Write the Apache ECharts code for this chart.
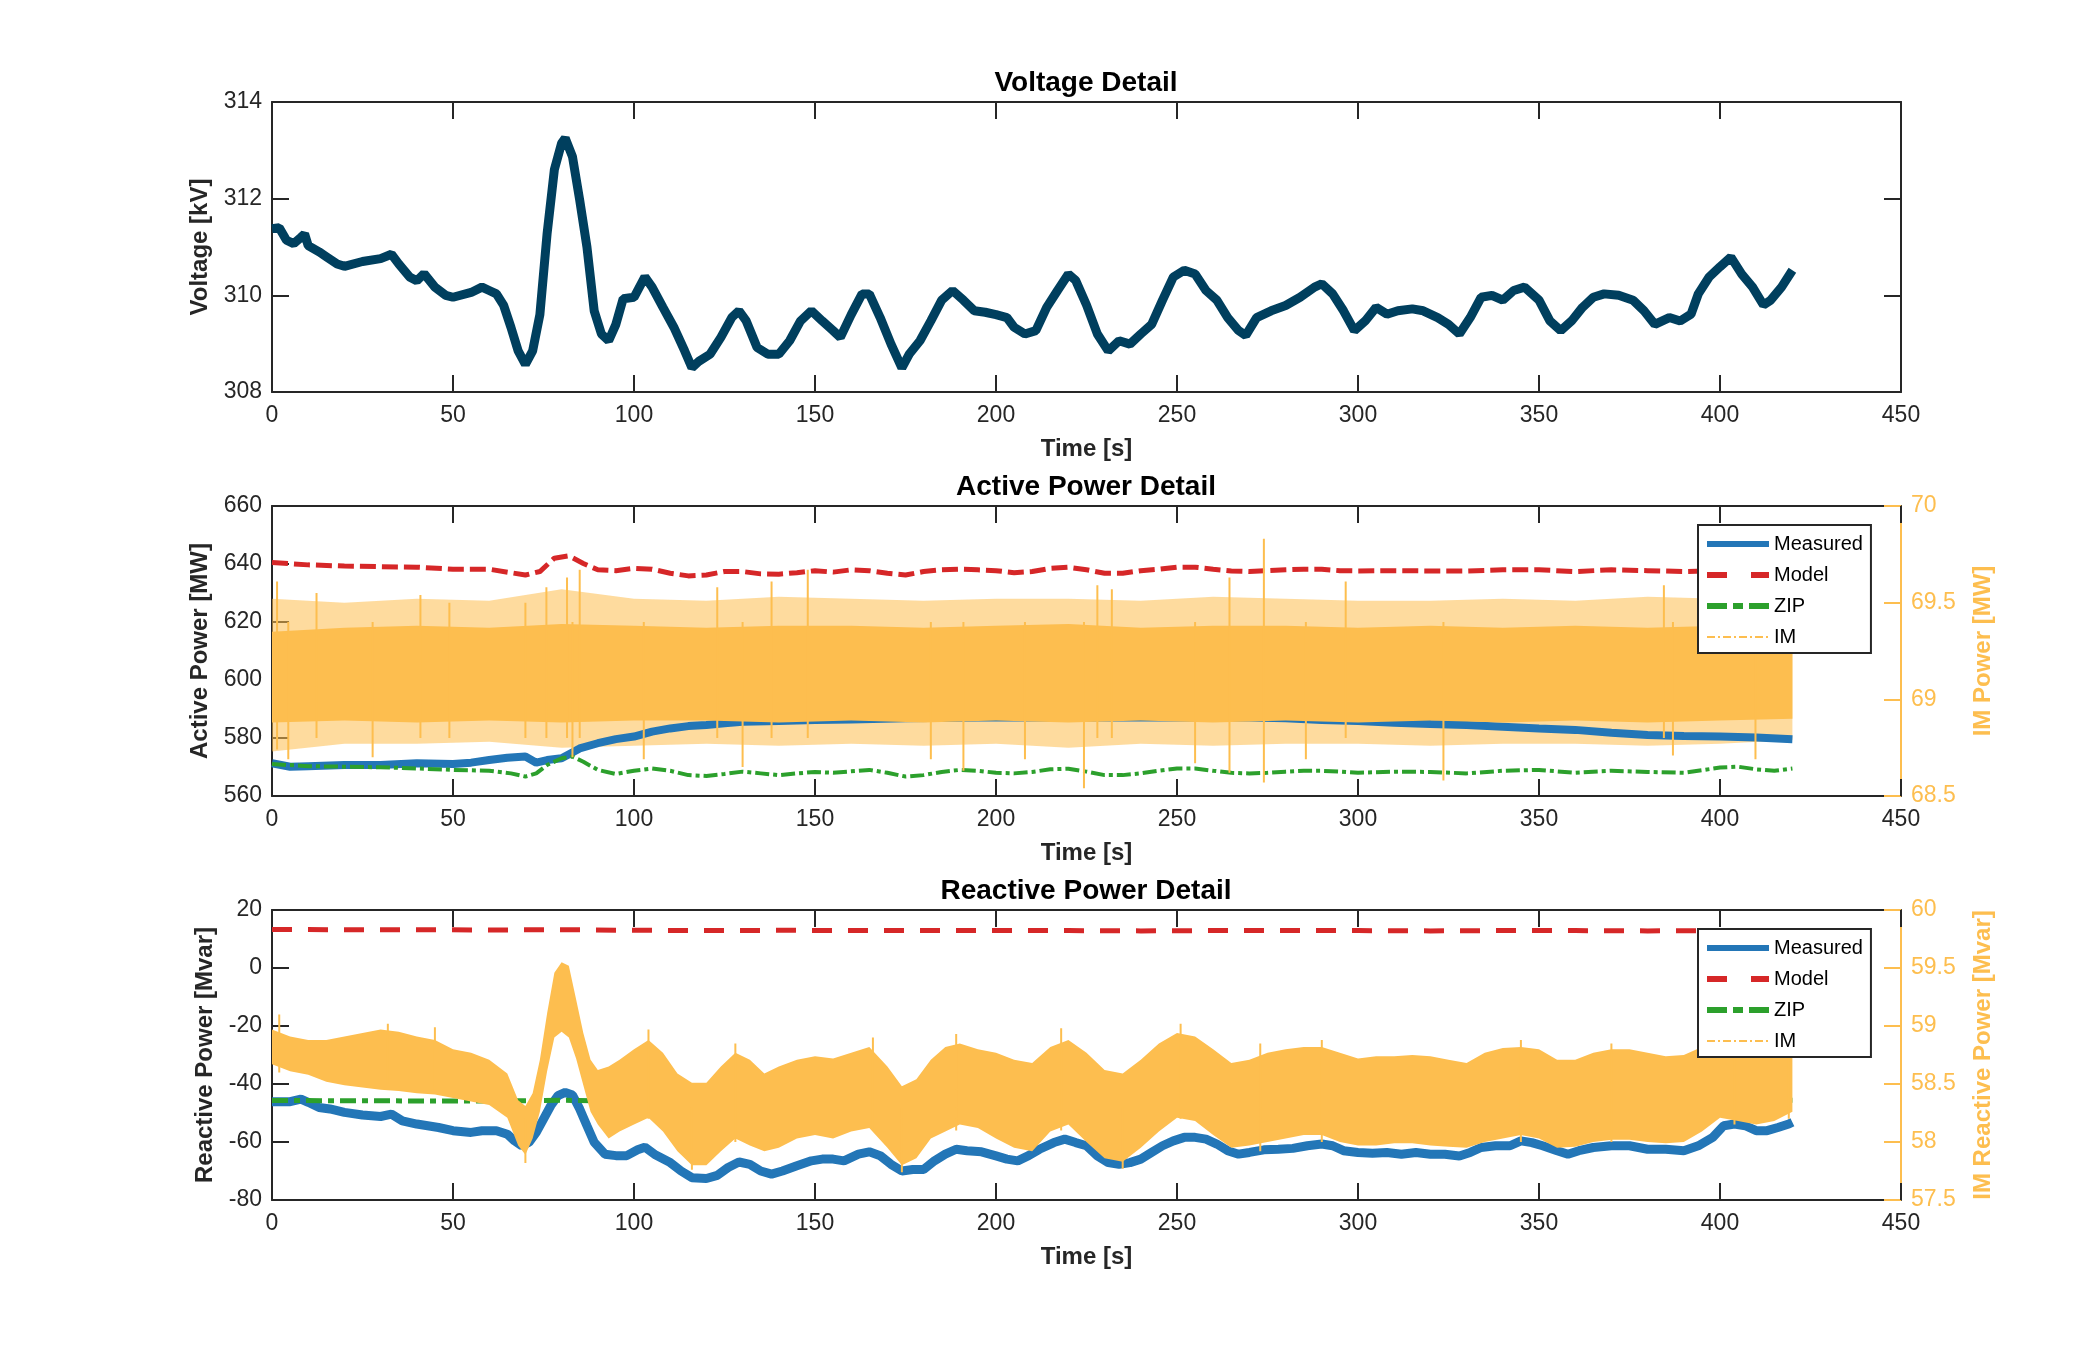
<!DOCTYPE html>
<html><head><meta charset="utf-8">
<script src="https://cdn.jsdelivr.net/npm/echarts@6/dist/echarts.min.js"></script>
<style>html,body{margin:0;padding:0;background:#fff}#c{width:2100px;height:1350px}</style>
</head><body><div id="c"></div>
<script>
// ---------------- DATA ----------------
const xTicks = [0, 450, 50];
const titles = ['Voltage Detail', 'Active Power Detail', 'Reactive Power Detail'];
const legendNames = ['Measured', 'Model', 'ZIP', 'IM'];

// Voltage [kV]
const voltT = [0,2,4,6,8,9,10,13,15,18,20,25,30,33,35,38,40,42,45,48,50,55,58,60,62,64,66,68,70,72,74,76,78,80,81,83,85,87,89,91,93,95,97,100,103,105,108,111,114,116,118,121,124,127,129,131,134,137,140,143,146,149,152,155,157,160,163,165,168,171,174,176,179,182,185,188,191,194,197,200,203,205,208,211,214,217,220,222,225,228,231,234,237,240,243,246,249,252,255,258,261,264,267,269,272,276,280,284,288,290,293,296,299,302,305,308,311,315,318,322,325,328,331,334,337,340,343,346,350,353,356,359,362,365,368,372,376,379,382,386,389,392,394,397,400,403,406,409,412,414,417,420];
const voltV = [311.38,311.4,311.14,311.07,311.2,311.27,311.03,310.9,310.8,310.65,
310.6,310.7,310.76,310.85,310.65,310.38,310.3,310.45,310.17,310.0,
309.96,310.06,310.17,310.1,310.03,309.79,309.34,308.85,308.57,308.85,
309.6,311.28,312.6,313.15,313.25,312.87,311.97,311.0,309.68,309.2,
309.06,309.4,309.93,309.96,310.38,310.17,309.75,309.34,308.85,308.5,
308.64,308.78,309.13,309.54,309.68,309.47,308.92,308.78,308.78,309.06,
309.47,309.68,309.47,309.27,309.13,309.6,310.03,310.03,309.54,308.99,
308.5,308.78,309.06,309.47,309.9,310.1,309.9,309.68,309.65,309.6,
309.54,309.34,309.2,309.27,309.75,310.1,310.44,310.31,309.8,309.2,
308.85,309.06,308.99,309.2,309.4,309.9,310.38,310.52,310.44,310.1,
309.9,309.54,309.27,309.17,309.54,309.68,309.79,309.96,310.17,310.24,
310.03,309.68,309.27,309.47,309.75,309.61,309.68,309.72,309.68,309.54,
309.4,309.2,309.54,309.96,310.0,309.9,310.1,310.17,309.9,309.47,
309.27,309.47,309.75,309.96,310.03,310.0,309.9,309.68,309.4,309.54,
309.47,309.61,310.03,310.38,310.59,310.79,310.44,310.17,309.8,309.9,
310.17,310.52];

// Active power [MW] (left axis)
const actMeasured = [[0,571.3],[5,570.1],[10,570.3],[20,570.7],[30,570.7],[40,571.3],[50,571.0],[55,571.5],[60,572.4],[65,573.2],[70,573.6],[73,571.5],[76,572.4],[80,573.0],[85,576.4],[90,578.2],[95,579.6],[100,580.5],[105,582.2],[110,583.3],[115,584.1],[120,584.5],[125,585.1],[130,585.6],[140,585.9],[150,586.2],[160,586.4],[175,586.8],[195,587.1],[230,587.1],[270,587.1],[280,586.8],[290,586.2],[300,585.9],[310,585.3],[320,584.8],[330,584.5],[340,583.9],[350,583.3],[360,582.8],[370,581.8],[380,581.0],[390,580.7],[400,580.5],[410,580.2],[420,579.6]];
const actModel = [[0,640.5],[10,639.7],[20,639.3],[30,639.1],[40,638.9],[50,638.2],[60,638.2],[66,637.0],[70,636.2],[74,637.4],[78,642.0],[82,642.8],[86,640.2],[90,638.0],[95,637.7],[100,638.5],[105,638.2],[110,636.8],[115,635.9],[120,636.2],[125,637.4],[130,637.4],[135,636.6],[140,636.5],[145,637.0],[150,637.7],[155,637.2],[160,638.0],[165,637.7],[170,636.8],[175,636.2],[180,637.4],[185,638.0],[190,638.2],[195,638.0],[200,637.7],[205,637.0],[210,637.4],[215,638.5],[220,638.9],[225,638.0],[230,636.8],[235,636.8],[240,637.7],[245,638.2],[250,638.9],[255,638.9],[260,638.2],[265,637.6],[270,637.4],[275,637.7],[280,638.0],[285,638.2],[290,638.2],[295,637.7],[300,637.6],[310,637.7],[320,637.6],[330,637.6],[340,638.0],[350,638.0],[360,637.4],[370,638.0],[380,637.7],[390,637.4],[400,637.7],[410,637.6],[420,637.6]];
const actZIP = [[0,571.0],[10,570.3],[20,570.1],[30,569.9],[40,569.5],[50,569.0],[60,568.7],[66,567.8],[70,566.7],[73,567.8],[76,570.7],[80,573.0],[83,573.6],[86,571.8],[90,569.0],[95,567.6],[100,568.7],[105,569.5],[110,568.7],[115,567.2],[120,566.9],[125,567.6],[130,568.4],[135,567.8],[140,567.2],[145,567.8],[150,568.3],[155,568.0],[160,568.5],[165,569.0],[170,568.0],[175,566.7],[180,567.2],[185,568.3],[190,569.0],[195,568.7],[200,568.0],[205,567.8],[210,568.3],[215,569.2],[220,569.4],[225,568.4],[230,567.2],[235,567.2],[240,567.8],[245,568.7],[250,569.5],[255,569.5],[260,568.7],[265,568.0],[270,567.8],[275,568.0],[280,568.4],[285,568.7],[290,568.7],[295,568.4],[300,568.0],[310,568.4],[320,568.3],[330,567.8],[340,568.7],[350,569.0],[360,568.0],[370,568.7],[380,568.3],[390,568.0],[400,569.8],[405,570.1],[410,569.2],[415,568.7],[420,569.5]];
// IM active power [MW] (right axis): [t, low, high]
const imActCore = [[0,68.88,69.35],[20,68.89,69.37],[40,68.88,69.38],[60,68.89,69.37],[80,68.88,69.39],[100,68.89,69.38],[120,68.89,69.37],[140,68.88,69.38],[160,68.89,69.38],[180,68.88,69.37],[200,68.89,69.38],[220,68.88,69.39],[240,68.89,69.37],[260,68.88,69.38],[280,68.89,69.38],[300,68.88,69.37],[320,68.89,69.38],[340,68.88,69.37],[360,68.89,69.38],[380,68.88,69.37],[400,68.89,69.38],[420,68.90,69.36]];
const imActFringe = [[0,68.73,69.52],[20,68.77,69.50],[40,68.77,69.52],[60,68.78,69.51],[80,68.75,69.57],[100,68.76,69.52],[120,68.77,69.51],[140,68.76,69.53],[160,68.77,69.52],[180,68.76,69.51],[200,68.77,69.52],[220,68.75,69.52],[240,68.77,69.51],[260,68.76,69.53],[280,68.77,69.52],[300,68.77,69.51],[320,68.76,69.51],[340,68.77,69.52],[360,68.77,69.51],[380,68.76,69.53],[400,68.77,69.52],[420,68.79,69.48]];
const imActSpikes = [[1.4,68.74,69.61],[4.5,68.69,69.4],[12.3,68.8,69.55],[27.8,68.70,69.4],[41,68.8,69.54],[49,68.8,69.5],[70,68.8,69.5],[75.8,68.8,69.58],[81.5,68.8,69.63],[83,68.70,69.4],[85,68.8,69.67],[102.7,68.69,69.4],[123,68.8,69.58],[130,68.65,69.4],[138,68.8,69.61],[148,68.8,69.67],[182,68.69,69.4],[191,68.63,69.4],[208,68.69,69.4],[224.3,68.54,69.4],[228,68.8,69.59],[232,68.8,69.57],[255,68.67,69.4],[264.5,68.62,69.63],[274,68.57,69.83],[285.6,68.69,69.4],[296.6,68.8,69.61],[323.6,68.58,69.4],[384.5,68.8,69.59],[387,68.71,69.4],[409.8,68.69,69.4]];

// Reactive power [Mvar] (left axis)
const reaMeasured = [[0,-46.1],[5,-46.1],[8,-45.2],[10,-46.3],[13,-48.1],[16,-48.6],[20,-49.8],[25,-50.7],[30,-51.2],[33,-50.4],[36,-52.7],[40,-53.8],[43,-54.4],[46,-55.0],[50,-56.1],[55,-56.7],[58,-56.1],[62,-56.1],[65,-57.3],[67,-59.6],[69,-61.3],[71,-60.1],[73,-56.7],[75,-52.1],[77,-47.5],[79,-44.0],[81,-42.9],[83,-43.8],[85,-48.6],[87,-54.4],[89,-60.1],[92,-64.2],[95,-64.7],[98,-64.7],[101,-62.7],[103,-61.8],[106,-64.5],[110,-67.1],[113,-70.0],[116,-72.3],[120,-72.6],[123,-71.5],[126,-68.8],[129,-66.9],[132,-67.7],[135,-70.0],[138,-71.1],[141,-70.0],[145,-68.2],[149,-66.5],[152,-65.9],[155,-65.9],[158,-66.5],[162,-64.2],[165,-63.4],[168,-64.7],[171,-67.7],[174,-70.0],[177,-69.5],[180,-69.5],[183,-66.5],[186,-64.2],[189,-62.5],[192,-63.0],[196,-63.4],[200,-64.8],[203,-65.9],[206,-66.5],[209,-64.7],[212,-62.5],[216,-60.2],[219,-59.0],[222,-60.2],[225,-61.3],[228,-64.8],[231,-67.1],[234,-67.7],[237,-67.1],[240,-65.9],[243,-63.6],[246,-61.3],[249,-59.6],[252,-58.4],[255,-58.4],[258,-59.0],[261,-60.7],[264,-63.0],[267,-64.2],[270,-63.6],[274,-62.7],[278,-62.5],[282,-62.2],[286,-61.3],[290,-60.7],[293,-61.3],[296,-63.0],[300,-63.6],[304,-63.9],[308,-63.6],[312,-64.2],[316,-63.6],[320,-64.2],[324,-64.2],[328,-64.8],[331,-63.6],[334,-61.9],[338,-61.3],[342,-61.3],[345,-59.6],[348,-60.2],[351,-61.3],[355,-63.0],[358,-64.2],[361,-63.0],[365,-61.9],[370,-61.3],[375,-61.3],[380,-62.5],[385,-62.5],[390,-63.0],[394,-61.3],[398,-58.4],[401,-54.4],[404,-53.8],[407,-54.4],[410,-56.1],[413,-56.1],[416,-55.0],[419,-53.8],[420,-53.2]];
const reaModel = [[0,13.3],[20,13.2],[40,13.2],[60,13.1],[80,13.2],[100,13.0],[120,12.9],[140,13.0],[160,12.9],[180,12.9],[200,12.9],[220,12.9],[240,12.8],[260,12.9],[280,12.9],[300,12.9],[320,12.8],[340,12.9],[360,12.9],[380,12.8],[400,12.9],[420,12.9]];
const reaZIP = [[0,-45.7],[30,-45.8],[60,-45.9],[80,-45.6],[90,-45.8],[120,-46.0],[150,-45.9],[180,-46.0],[210,-45.9],[240,-46.0],[270,-45.9],[300,-45.9],[330,-45.9],[360,-45.8],[390,-45.8],[420,-45.6]];
// IM reactive power [Mvar] (right axis): [t, low, high]
const imReaBand = [[0,58.67,58.97],[5,58.61,58.91],[10,58.58,58.88],[15,58.52,58.88],[20,58.49,58.91],[25,58.47,58.94],[30,58.45,58.97],[35,58.44,58.95],[40,58.42,58.91],[45,58.41,58.88],[50,58.38,58.80],[55,58.35,58.77],[60,58.32,58.71],[65,58.21,58.59],[68,57.97,58.36],[70,57.89,58.31],[72,58.03,58.42],[74,58.26,58.71],[76,58.61,59.11],[78,58.90,59.46],[80,58.95,59.55],[82,58.90,59.52],[84,58.72,59.23],[86,58.49,58.94],[88,58.26,58.71],[90,58.15,58.62],[93,58.03,58.65],[96,58.09,58.71],[100,58.15,58.80],[104,58.21,58.88],[108,58.09,58.77],[112,57.92,58.59],[116,57.80,58.51],[120,57.80,58.51],[124,57.92,58.65],[128,58.03,58.77],[132,57.97,58.71],[136,57.92,58.59],[140,57.95,58.65],[145,58.03,58.71],[150,58.06,58.74],[155,58.03,58.72],[160,58.09,58.77],[165,58.12,58.82],[170,57.95,58.65],[174,57.80,58.48],[178,57.86,58.54],[182,58.03,58.71],[186,58.09,58.82],[190,58.15,58.85],[195,58.12,58.80],[200,58.03,58.77],[205,57.95,58.71],[210,57.92,58.68],[215,58.09,58.82],[220,58.15,58.88],[225,58.00,58.77],[230,57.86,58.62],[235,57.83,58.59],[240,57.95,58.71],[245,58.09,58.85],[250,58.21,58.94],[255,58.18,58.91],[260,58.06,58.80],[265,57.95,58.68],[270,57.97,58.71],[275,58.00,58.77],[280,58.03,58.80],[285,58.06,58.82],[290,58.06,58.82],[295,58.00,58.77],[300,57.97,58.72],[305,57.97,58.74],[310,57.99,58.74],[315,57.99,58.75],[320,57.97,58.74],[325,57.96,58.71],[330,57.95,58.68],[335,58.00,58.77],[340,58.03,58.81],[345,58.06,58.82],[350,58.03,58.80],[355,57.95,58.71],[360,57.96,58.71],[365,58.00,58.77],[370,58.02,58.80],[375,58.02,58.80],[380,58.00,58.77],[385,57.99,58.74],[390,58.00,58.75],[395,58.09,58.82],[400,58.21,58.91],[405,58.18,58.91],[410,58.15,58.85],[415,58.18,58.85],[420,58.26,58.88]];
const imReaSpikes = [[2,58.6,59.1],[32,58.5,59.02],[45,58.45,58.99],[70,57.82,58.2],[104,58.2,58.97],[116,57.76,58.3],[128,58.0,58.85],[166,58.1,58.9],[174,57.74,58.3],[189,58.1,58.93],[218,58.1,58.98],[235,57.77,58.3],[251,58.2,59.02],[273,57.92,58.85],[290,58.0,58.88],[345,58.0,58.88],[370,58.0,58.85],[404,58.15,59.02],[419,58.2,58.95]];

// ---------------- STYLE ----------------
const FF = "'Liberation Sans', Arial, Helvetica, sans-serif";
const AX = '#262626';
const C_VOLT = '#003f5e', C_MEAS = '#2376b7', C_MODEL = '#d62728', C_ZIP = '#2ca02c', C_IM = '#fdbe4f';
const GL = 272, GR = 199, GH = 290, TOPS = [102, 506, 910];

function xAxisPair(gi) {
  const base = {type:'value', gridIndex:gi, min:xTicks[0], max:xTicks[1], interval:xTicks[2], splitLine:{show:false},
    axisLine:{onZero:false, lineStyle:{color:AX, width:2}}, axisTick:{inside:true, length:17, lineStyle:{color:AX, width:2}}};
  return [
    Object.assign({}, base, {position:'bottom', axisLabel:{fontSize:23, color:AX, margin:12, fontFamily:FF},
      name:'Time [s]', nameLocation:'middle', nameGap:45, nameTextStyle:{fontSize:24, fontWeight:'bold', color:AX, fontFamily:FF}}),
    Object.assign({}, base, {position:'top', axisLabel:{show:false}})
  ];
}
function yLeft(gi, mn, mx, iv, name, gap) {
  return {type:'value', gridIndex:gi, position:'left', min:mn, max:mx, interval:iv, splitLine:{show:false},
    axisLine:{onZero:false, lineStyle:{color:AX, width:2}}, axisTick:{inside:true, length:17, lineStyle:{color:AX, width:2}},
    axisLabel:{fontSize:23, color:AX, margin:10, fontFamily:FF},
    name:name, nameLocation:'middle', nameGap:gap, nameTextStyle:{fontSize:24, fontWeight:'bold', color:AX, fontFamily:FF}};
}
function yRightMirror(gi, mn, mx, iv) {
  return {type:'value', gridIndex:gi, position:'right', min:mn, max:mx, interval:iv, splitLine:{show:false},
    axisLine:{onZero:false, lineStyle:{color:AX, width:2}}, axisTick:{inside:true, length:17, lineStyle:{color:AX, width:2}},
    axisLabel:{show:false}};
}
function yRightIM(gi, mn, mx, iv, name) {
  return {type:'value', gridIndex:gi, position:'right', min:mn, max:mx, interval:iv, splitLine:{show:false},
    axisLine:{onZero:false, lineStyle:{color:C_IM, width:2}}, axisTick:{inside:true, length:17, lineStyle:{color:C_IM, width:2}},
    axisLabel:{fontSize:23, color:C_IM, margin:10, fontFamily:FF},
    name:name, nameLocation:'middle', nameGap:70, nameTextStyle:{fontSize:24, fontWeight:'bold', color:C_IM, fontFamily:FF}};
}

function line(name, data, xi, yi, color, width, type, z) {
  return {type:'line', name:name, data:data, xAxisIndex:xi, yAxisIndex:yi, symbol:'none', showSymbol:false,
    lineStyle:{color:color, width:width, type:type || 'solid'}, itemStyle:{color:color}, z:z || 2, silent:true, animation:false};
}
// filled band between low and high, drawn through the axes' own scales
function band(data, xi, yi, opacity, z) {
  return {type:'custom', name:'_band', xAxisIndex:xi, yAxisIndex:yi, data:data, encode:{x:0, y:[1,2]}, z:z, silent:true, animation:false,
    renderItem: function (params, api) {
      if (params.dataIndexInside !== 0) return null;
      const upper = data.map(d => api.coord([d[0], d[2]]));
      const lower = data.slice().reverse().map(d => api.coord([d[0], d[1]]));
      return {type:'polygon', shape:{points:upper.concat(lower)}, style:{fill:C_IM, opacity:opacity}};
    }};
}
function spikes(data) {
  const out = [];
  data.forEach(s => { out.push([s[0], s[1]]); out.push([s[0], s[2]]); out.push([s[0], '-']); });
  return out;
}
function legendAt(top) {
  const hide = {opacity:0};
  return {orient:'vertical', left:1698, top:top, itemWidth:62, itemHeight:14, itemGap:11, padding:[9,8,6,6],
    borderColor:AX, borderWidth:2, backgroundColor:'#fff', borderRadius:0, z:10,
    textStyle:{fontSize:20, color:'#000', fontFamily:FF}, selectedMode:false,
    data:[
      {name:'Measured', itemStyle:hide, lineStyle:{color:C_MEAS, width:6, type:'solid'}},
      {name:'Model', itemStyle:hide, lineStyle:{color:C_MODEL, width:6, type:[20,24]}},
      {name:'ZIP', itemStyle:hide, lineStyle:{color:C_ZIP, width:6, type:[20,6,10,6]}},
      {name:'IM', itemStyle:hide, lineStyle:{color:C_IM, width:2, type:[8,3,2,3]}}
    ]};
}

const xAxes = [].concat(xAxisPair(0), xAxisPair(1), xAxisPair(2));
const yAxes = [
  yLeft(0, 308, 314, 2, 'Voltage [kV]', 55), yRightMirror(0, 308, 314, 2),
  yLeft(1, 560, 660, 20, 'Active Power [MW]', 55), yRightIM(1, 68.5, 70, 0.5, 'IM Power [MW]'),
  yLeft(2, -80, 20, 20, 'Reactive Power [Mvar]', 55), yRightIM(2, 57.5, 60, 0.5, 'IM Reactive Power [Mvar]')
];

const series = [
  line('Voltage', voltT.map((t, i) => [t, voltV[i]]), 0, 0, C_VOLT, 9),
  // active power
  band(imActFringe, 2, 3, 0.55, 1),
  line('Measured', actMeasured, 2, 2, C_MEAS, 8, 'solid', 2),
  line('Model', actModel, 2, 2, C_MODEL, 5, [16,6], 2),
  line('ZIP', actZIP, 2, 2, C_ZIP, 4, [14,4,4,4], 2),
  band(imActCore, 2, 3, 1, 3),
  line('IM', spikes(imActSpikes), 2, 3, C_IM, 2, 'solid', 3),
  // reactive power
  line('Measured', reaMeasured, 4, 4, C_MEAS, 9, 'solid', 2),
  line('Model', reaModel, 4, 4, C_MODEL, 5, [20,16], 2),
  line('ZIP', reaZIP, 4, 4, C_ZIP, 5, [16,6,6,6], 2),
  band(imReaBand, 4, 5, 1, 3),
  line('IM', spikes(imReaSpikes), 4, 5, C_IM, 2, 'solid', 3)
];

const option = {
  backgroundColor:'#fff',
  animation:false,
  title: titles.map((t, i) => ({text:t, left:1086, textAlign:'center', top:TOPS[i]-33, padding:0,
    textStyle:{fontSize:28, fontWeight:'bold', color:'#000', fontFamily:FF}})),
  grid: TOPS.map(t => ({left:GL, right:GR, top:t, height:GH, containLabel:false})),
  legend: [legendAt(525), legendAt(929)],
  xAxis: xAxes,
  yAxis: yAxes,
  series: series
};
const chart = echarts.init(document.getElementById('c'), null, {renderer:'canvas', width:2100, height:1350});
chart.setOption(option);
</script></body></html>
